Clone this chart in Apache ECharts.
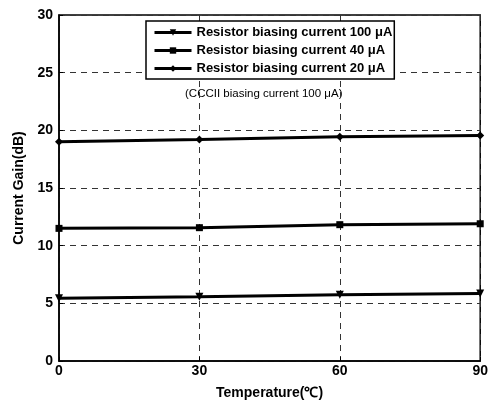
<!DOCTYPE html>
<html>
<head>
<meta charset="UTF-8">
<title>Current Gain vs Temperature</title>
<script src="https://cdn.jsdelivr.net/npm/echarts@6/dist/echarts.min.js"></script>
</head>
<body style="margin:0">
<div id="main" style="width:491px;height:405px"></div>
<script>
var chart = echarts.init(document.getElementById('main'));

var temps = [0, 30, 60, 90];
var names = ['Resistor biasing current 100 μA', 'Resistor biasing current 40 μA', 'Resistor biasing current 20 μA'];
var gain100 = [5.45, 5.58, 5.75, 5.86];
var gain40 = [11.5, 11.56, 11.82, 11.9];
var gain20 = [19.0, 19.2, 19.45, 19.55];

function pairs(ys) {
    return temps.map(function (t, i) { return [t, ys[i]]; });
}

var font = 'Liberation Sans, Arial, sans-serif';

function line(name, ys, symbol, rot) {
    return {
        name: name,
        type: 'line',
        data: pairs(ys),
        symbol: symbol,
        symbolSize: symbol == 'rect' ? 7 : 8,
        symbolRotate: rot || 0,
        lineStyle: { color: '#000', width: 3 },
        itemStyle: { color: '#000' },
        z: 5
    };
}

var option = {
    animation: false,
    grid: { left: 59, right: 9, top: 15, bottom: 41, show: true, borderColor: '#000', borderWidth: 1.5 },
    legend: {
        data: names,
        orient: 'vertical',
        left: 146,
        top: 21,
        padding: [5, 2, 4, 7],
        itemWidth: 37,
        itemHeight: 8,
        itemGap: 5,
        borderColor: '#000',
        borderWidth: 1.5,
        backgroundColor: '#fff',
        lineStyle: { width: 3, color: '#000' },
        textStyle: { fontFamily: font, fontWeight: 'bold', fontSize: 13, color: '#000' }
    },
    graphic: [{
        type: 'text',
        left: 185,
        top: 88,
        style: { text: '(CCCII biasing current 100 μA)', font: '11.5px ' + font, fill: '#000' }
    }],
    xAxis: {
        type: 'value',
        min: 0, max: 90, interval: 30,
        name: 'Temperature(℃)',
        nameLocation: 'middle',
        nameGap: 25,
        nameTextStyle: { fontFamily: font, fontWeight: 'bold', fontSize: 14, color: '#000' },
        axisLine: { lineStyle: { color: '#000', width: 1.5 } },
        axisTick: { inside: true, length: 4, lineStyle: { color: '#000' } },
        axisLabel: { fontFamily: font, fontWeight: 'bold', fontSize: 14, color: '#000', margin: 3 },
        splitLine: { lineStyle: { color: '#333', type: [6, 5], width: 1 } }
    },
    yAxis: {
        type: 'value',
        min: 0, max: 30, interval: 5,
        name: 'Current Gain(dB)',
        nameLocation: 'middle',
        nameGap: 33,
        nameTextStyle: { fontFamily: font, fontWeight: 'bold', fontSize: 14, color: '#000' },
        axisLine: { lineStyle: { color: '#000', width: 1.5 } },
        axisTick: { inside: true, length: 4, lineStyle: { color: '#000' } },
        axisLabel: { fontFamily: font, fontWeight: 'bold', fontSize: 14, color: '#000', margin: 6 },
        splitLine: { lineStyle: { color: '#333', type: [6, 5], width: 1 } }
    },
    series: [
        line(names[0], gain100, 'triangle', 180),
        line(names[1], gain40, 'rect'),
        line(names[2], gain20, 'diamond')
    ]
};
chart.setOption(option);
</script>
</body>
</html>
